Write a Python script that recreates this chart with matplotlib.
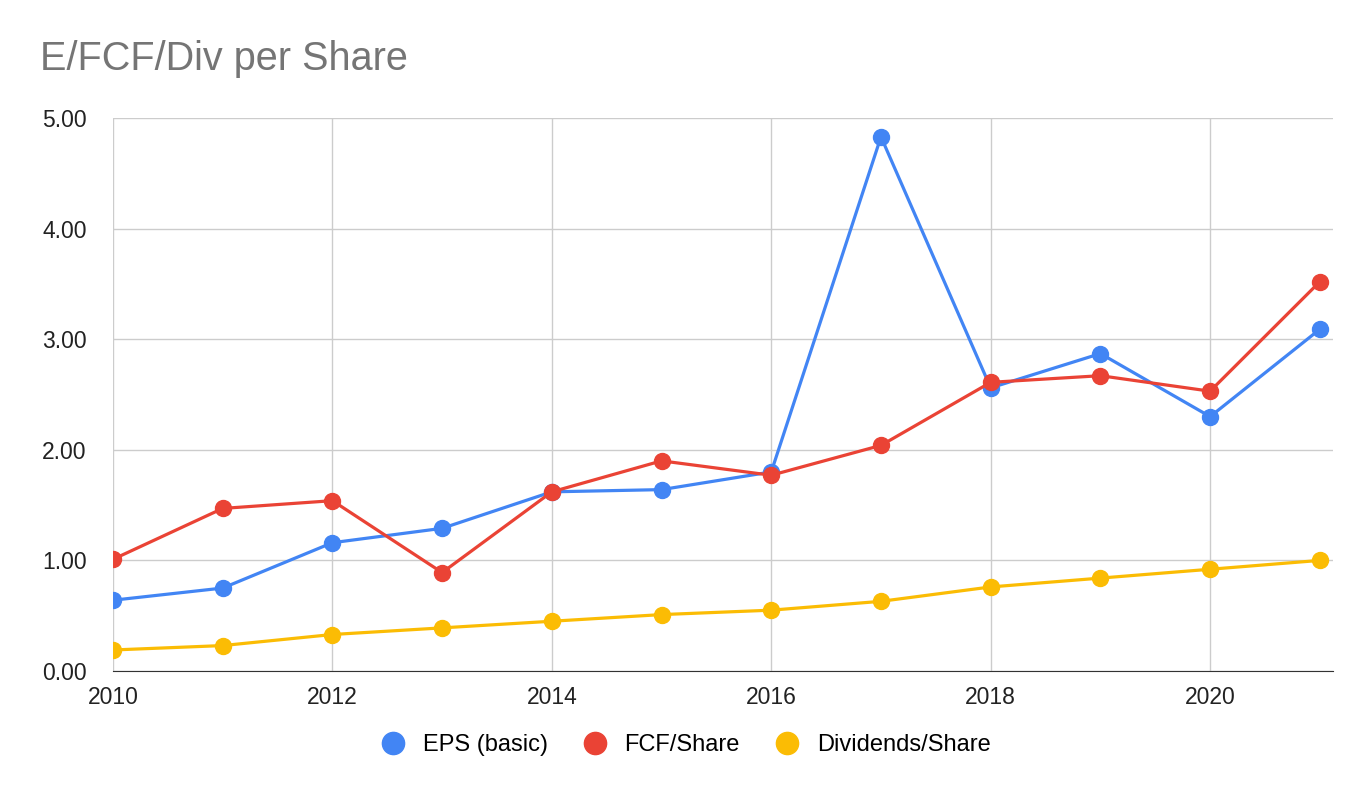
import matplotlib.pyplot as plt

plt.rcParams['font.family'] = ['Liberation Sans', 'DejaVu Sans']

years = list(range(2010, 2022))
eps = [0.64, 0.75, 1.16, 1.29, 1.62, 1.64, 1.80, 4.83, 2.56, 2.87, 2.30, 3.09]
fcf = [1.01, 1.47, 1.54, 0.89, 1.62, 1.90, 1.77, 2.04, 2.61, 2.67, 2.53, 3.52]
div = [0.19, 0.23, 0.33, 0.39, 0.45, 0.51, 0.55, 0.63, 0.76, 0.84, 0.92, 1.00]

series = [
    ('EPS (basic)', eps, '#4285F4'),
    ('FCF/Share', fcf, '#EA4335'),
    ('Dividends/Share', div, '#FBBC04'),
]

fig = plt.figure(figsize=(13.72, 7.98), dpi=100)
ax = fig.add_axes([113 / 1372, 127 / 798, 1220 / 1372, 553 / 798])

for name, vals, col in series:
    ax.plot(years, vals, color=col, lw=2.3, marker='o', ms=11.5, label=name, zorder=3)

ax.set_xlim(2010, 2021.12)
ax.set_ylim(0, 5)
ax.set_xticks(range(2010, 2021, 2))
ax.set_yticks([0, 1, 2, 3, 4, 5])
ax.set_yticklabels([f'{v:.2f}' for v in range(6)])
ax.grid(True, color='#cccccc', lw=1)
ax.set_axisbelow(True)
for s in ['top', 'right', 'left']:
    ax.spines[s].set_visible(False)
ax.spines['bottom'].set_color('#333333')
ax.tick_params(length=0, labelsize=16.5, colors='#222222')
ax.tick_params(axis='x', pad=11)
ax.tick_params(axis='y', pad=19)

fig.text(40 / 1372, 1 - 70 / 798, 'E/FCF/Div per Share', fontsize=28.5, color='#757575', va='baseline')

fig.legend(loc='center', bbox_to_anchor=(0.5, 1 - 745 / 798), ncol=3, frameon=False,
           fontsize=17, handlelength=1.0, columnspacing=1.5, handletextpad=0.75)
for h in fig.legends[0].legend_handles:
    h.set_linestyle('None')
    h.set_markersize(16)

fig.savefig('out.png', dpi=100)
